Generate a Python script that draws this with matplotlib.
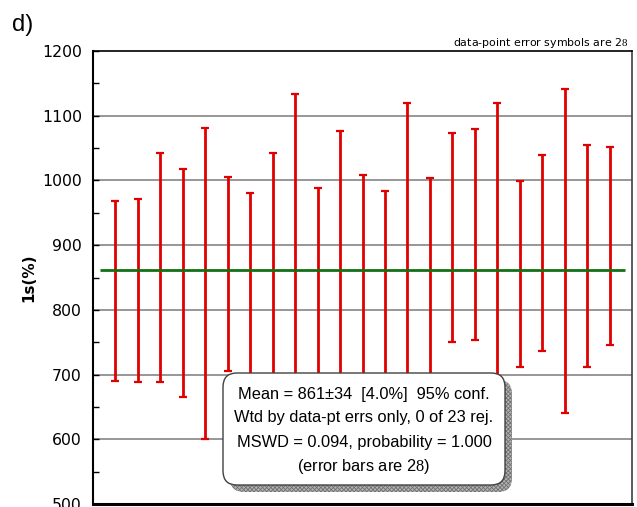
import matplotlib.pyplot as plt
import numpy as np
from matplotlib.patches import FancyBboxPatch
from matplotlib.transforms import IdentityTransform
from matplotlib.ticker import MultipleLocator

plt.rcParams['font.family'] = ['Liberation Sans', 'DejaVu Sans']
plt.rcParams['mathtext.fontset'] = 'custom'
plt.rcParams['mathtext.rm'] = 'Liberation Serif'
plt.rcParams['hatch.linewidth'] = 0.6

# Données : bornes 2s de chaque point (les bas cachés par la boîte sont estimés)
analysis = np.arange(1, 24)
err_high = [968, 971, 1043, 1017, 1081, 1005, 981, 1042, 1133, 988, 1077, 1009,
            983, 1120, 1004, 1073, 1079, 1120, 999, 1040, 1141, 1055, 1052]
err_low = [690, 689, 689, 666, 600, 706, 700, 695, 620, 690, 660, 700,
           690, 640, 700, 750, 753, 650, 712, 736, 640, 712, 746]
mean_value = 861
yticks = [500, 600, 700, 800, 900, 1000, 1100, 1200]

box_lines = ["Mean = 861\u00b134  [4.0%]  95% conf.",
             "Wtd by data-pt errs only, 0 of 23 rej.",
             "MSWD = 0.094, probability = 1.000",
             "(error bars are 2$\\mathrm{8}$)"]

W, H = 637, 507
fig = plt.figure(figsize=(W / 100, H / 100), dpi=100)
ax = fig.add_axes([93 / W, 3 / H, 539 / W, 453 / H])

high = np.array(err_high)
low = np.array(err_low)
mid = (high + low) / 2
half = (high - low) / 2

for v in yticks[1:-1]:
    ax.axhline(v, color='#858585', lw=1.2, zorder=1)

ax.errorbar(analysis, mid, yerr=half, fmt='none', ecolor='#e00000',
            elinewidth=2.0, capsize=2.6, capthick=1.6, zorder=2)
ax.hlines(mean_value, 0.3, 23.7, color='#137013', lw=2.0, zorder=3)

ax.set_xlim(0, 24)
ax.set_ylim(500, 1200)
ax.set_xticks([])
ax.set_yticks(yticks)
ax.yaxis.set_minor_locator(MultipleLocator(50))
ax.tick_params(axis='y', which='both', direction='in', length=4, width=1,
               pad=8, labelsize=11.3, labelfontfamily='DejaVu Sans')
ax.set_ylabel("1s(%)", fontsize=11, fontweight='bold', family='DejaVu Sans',
              labelpad=4)

for side in ['left', 'top', 'bottom']:
    ax.spines[side].set_color('black')
ax.spines['left'].set_linewidth(1.5)
ax.spines['top'].set_linewidth(1.2)
ax.spines['bottom'].set_linewidth(2.2)
ax.spines['right'].set_color('#404040')
ax.spines['right'].set_linewidth(1.2)

# Boîte de résultats avec ombre
bx, by, bw, bh = 223, H - 485, 282, 112
shadow = FancyBboxPatch((bx + 7, by - 7), bw, bh,
                        boxstyle="round,pad=0,rounding_size=14",
                        transform=IdentityTransform(), facecolor='#b4b4b4',
                        edgecolor='#707070', hatch='xxxxxxxx', lw=0, zorder=5)
box = FancyBboxPatch((bx, by), bw, bh,
                     boxstyle="round,pad=0,rounding_size=14",
                     transform=IdentityTransform(), facecolor='white',
                     edgecolor='#404040', lw=1.0, zorder=6)
fig.add_artist(shadow)
fig.add_artist(box)

for txt, yb in zip(box_lines, [399, 422, 447, 471]):
    fig.text(364 / W, 1 - yb / H, txt, ha='center', va='baseline',
             fontsize=11.8, zorder=7)

fig.text(628 / W, 1 - 46 / H, "data-point error symbols are 2$\\mathrm{8}$",
         ha='right', va='baseline', fontsize=7.9, family='DejaVu Sans')
fig.text(12 / W, 1 - 31 / H, "d)", ha='left', va='baseline', fontsize=17)

fig.savefig("out.png", dpi=100)
